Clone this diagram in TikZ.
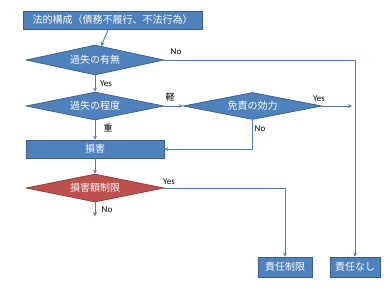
\documentclass[tikz,border=0pt]{standalone}
\usepackage{fontspec}
\setmainfont{Carlito}
\newfontfamily\jp{Noto Sans CJK JP}
\usetikzlibrary{shapes.geometric,arrows.meta}
\definecolor{fillblue}{HTML}{4F81BD}
\definecolor{lineblue}{HTML}{385D8A}
\definecolor{fillred}{HTML}{C0504D}
\definecolor{linered}{HTML}{8C3836}
\definecolor{conn}{HTML}{4A7EBB}
\tikzset{
  boxnode/.style={draw=lineblue, fill=fillblue, line width=0.7pt, text=white, font=\jp\fontsize{10}{11}\selectfont, inner sep=0pt, rectangle},
  decnode/.style={draw=lineblue, fill=fillblue, line width=0.7pt, text=white, font=\jp\fontsize{10}{11}\selectfont, inner sep=0pt, diamond, minimum width=138pt},
  conline/.style={draw=conn, line width=0.9pt},
  conarrow/.style={conline, -{Stealth[length=4pt,width=4pt]}},
  lbl/.style={font=\fontsize{9}{10}\selectfont, text=black, inner sep=0pt},
  jlbl/.style={font=\jp\fontsize{9}{10}\selectfont, text=black, inner sep=0pt}
}
\begin{document}
\begin{tikzpicture}[x=1pt,y=-1pt]
\useasboundingbox (0,0) rectangle (390,293);
\node[boxnode, minimum width=179pt, minimum height=18pt] (top) at (112.5,20) {法的構成（債務不履行、不法行為）};
\node[decnode, aspect=4.6, minimum height=30pt] (d1) at (95,60) {過失の有無};
\node[decnode, aspect=4.93, minimum height=28pt] (d2) at (95,106) {過失の程度};
\node[boxnode, minimum width=138pt, minimum height=18pt] (dmg) at (95,149) {損害};
\node[decnode, aspect=4.93, minimum height=28pt, fill=fillred, draw=linered] (d3) at (95,188) {損害額制限};
\node[decnode, aspect=5.15, minimum width=139pt, minimum height=27pt] (d4) at (252.5,106) {免責の効力};
\node[boxnode, minimum width=54pt, minimum height=20pt] (r1) at (285,267) {責任制限};
\node[boxnode, minimum width=50pt, minimum height=20pt] (r2) at (355,267) {責任なし};
\coordinate (yesend) at (352,106);
\coordinate (noend) at (95,216);

\draw[conarrow] (top) -- (d1);
\draw[conarrow] (d1) -- (d2);
\draw[conarrow] (d2) -- (dmg);
\draw[conarrow] (dmg) -- (d3);
\draw[conarrow] (d3.south) -- (noend);
\draw[conarrow] (d2.east) -- (d4.west);
\draw[conarrow] (d4.east) -- (yesend);
\draw[conarrow] (d4.south) |- (dmg.east);
\draw[conarrow] (d1.east) -| (r2.north);
\draw[conarrow] (d3.east) -| (r1.north);

\node[lbl] (l1) at (176,52) {No};
\node[lbl] (l2) at (106,84) {Yes};
\node[jlbl] (l3) at (170,97) {軽};
\node[jlbl] (l4) at (108,128) {重};
\node[lbl] (l5) at (319,99) {Yes};
\node[lbl] (l6) at (260,129) {No};
\node[lbl] (l7) at (169,182) {Yes};
\node[lbl] (l8) at (107,210) {No};
\end{tikzpicture}
\end{document}
